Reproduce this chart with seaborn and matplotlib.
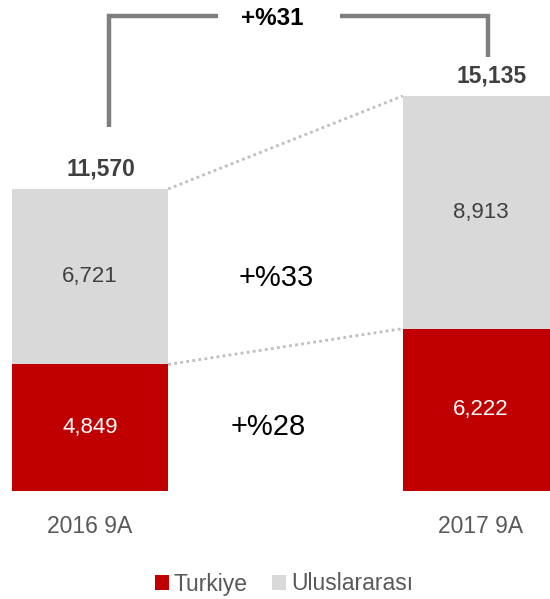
import matplotlib
matplotlib.use("Agg")
import matplotlib.pyplot as plt
from matplotlib.patches import Patch
import seaborn as sns
import pandas as pd

# Data
periods = ["2016 9A", "2017 9A"]
turkiye = [4849, 6222]
uluslararasi = [6721, 8913]
totals = [11570, 15135]
growth_total = "+%31"
growth_uluslararasi = "+%33"
growth_turkiye = "+%28"
series_names = ["Turkiye", "Uluslararası"]

RED = "#C00000"
GRAY = "#D9D9D9"
DARK = "#404040"
TICK = "#595959"

sns.set_theme(style="white")
plt.rcParams["font.family"] = ["Liberation Sans", "DejaVu Sans"]

W, H, DPI = 550, 599, 100
fig = plt.figure(figsize=(W / DPI, H / DPI), dpi=DPI)
ax = fig.add_axes([0, 108 / H, 1, 491 / H])

df = pd.DataFrame({"period": periods, "turkiye": turkiye, "total": totals})

# Stacked bars: full total in gray, Turkiye share in red over it
sns.barplot(data=df, x="period", y="total", order=periods, color=GRAY,
            saturation=1, width=0.4, errorbar=None, ax=ax, linewidth=0)
sns.barplot(data=df, x="period", y="turkiye", order=periods, color=RED,
            saturation=1, width=0.4, errorbar=None, ax=ax, linewidth=0)

ax.set_xlim(-90 / 391, 460 / 391)
ax.set_ylim(0, 18810)
for s in ax.spines.values():
    s.set_visible(False)
ax.set_yticks([])
ax.set_xlabel("")
ax.set_ylabel("")
ax.set_xticks([0, 1])
ax.set_xticklabels(periods, fontsize=16.5, color=TICK)
ax.tick_params(axis="x", length=0, pad=17)

half = 0.2
# Dotted connectors between the bars
ax.plot([half, 1 - half], totals, color="#BFBFBF", lw=2,
        linestyle=(0, (1, 1.2)), dash_capstyle="butt", zorder=1)
ax.plot([half, 1 - half], turkiye, color="#BFBFBF", lw=2,
        linestyle=(0, (1, 1.2)), dash_capstyle="butt", zorder=1)

# Segment value labels
for i in range(2):
    ax.text(i, turkiye[i] / 2, f"{turkiye[i]:,}", ha="center", va="center",
            color="white", fontsize=16)
    ax.text(i, turkiye[i] + uluslararasi[i] / 2, f"{uluslararasi[i]:,}",
            ha="center", va="center", color=DARK, fontsize=16)
    ax.annotate(f"{totals[i]:,}", xy=(i, totals[i]), xytext=(11, 20),
                textcoords="offset pixels", ha="center", va="center",
                color=DARK, fontsize=16.5, fontweight="bold")

# Growth labels between the bars
ax.text(0.476, 8161, growth_uluslararasi, ha="center", va="center",
        color="black", fontsize=21)
ax.text(0.455, 2452, growth_turkiye, ha="center", va="center",
        color="black", fontsize=21)

# Bracket for total growth
bc = "#7F7F7F"
ax.plot([0.049, 0.049, 0.327], [13946, 18200, 18200], color=bc, lw=3.2,
        solid_joinstyle="miter", solid_capstyle="butt", clip_on=False)
ax.plot([0.639, 1.018, 1.018], [18200, 18200, 16628], color=bc, lw=3.2,
        solid_joinstyle="miter", solid_capstyle="butt", clip_on=False)
ax.text(0.465, 18084, growth_total, ha="center", va="center",
        color="black", fontsize=17.5, fontweight="bold", clip_on=False)

# Legend
handles = [Patch(facecolor=RED, edgecolor="none", label=series_names[0]),
           Patch(facecolor=GRAY, edgecolor="none", label=series_names[1])]
leg = fig.legend(handles=handles, loc="center", ncol=2, frameon=False,
                 bbox_to_anchor=(284 / W, 15 / H), fontsize=16.5,
                 handlelength=0.62, handleheight=0.62, handletextpad=0.2,
                 columnspacing=1.05, borderpad=0, borderaxespad=0)
for t in leg.get_texts():
    t.set_color(TICK)

fig.savefig("out.png", dpi=DPI)
